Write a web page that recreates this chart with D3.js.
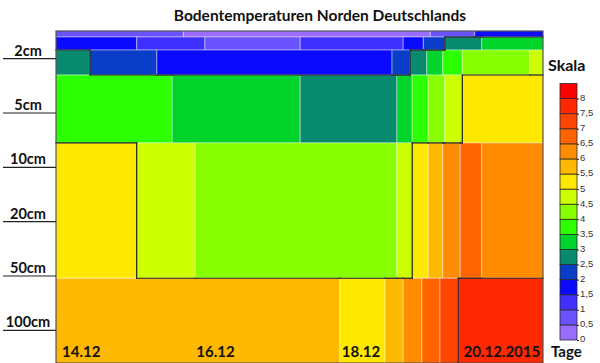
<!DOCTYPE html>
<html><head><meta charset="utf-8">
<script src="https://cdn.jsdelivr.net/npm/d3@7"></script>
<style>body{margin:0;background:#fff}svg{display:block}</style>
</head><body><svg id="c" width="600" height="363"></svg>
<script>
// ---- data ----
const title = "Bodentemperaturen Norden Deutschlands";
const depthLabels = ["2cm", "5cm", "10cm", "20cm", "50cm", "100cm"];
const depthTicks = [0, 1, 2, 3, 4, 5];
const dateTicks = [14.08, 16.01, 18.1, 19.85];
const dateLabels = ["14.12", "16.12", "18.12", "20.12.2015"];
const scaleSteps = [0.5, 1, 1.5, 2, 2.5, 3, 3.5, 4, 4.5, 5, 5.5, 6, 6.5, 7, 7.5, 8];
const scaleTicks = [0, 0.5, 1, 1.5, 2, 2.5, 3, 3.5, 4, 4.5, 5, 5.5, 6, 6.5, 7, 7.5, 8];
const scaleTickLabels = ["0", "0,5", "1", "1,5", "2", "2,5", "3", "3,5", "4", "4,5", "5", "5,5", "6", "6,5", "7", "7,5", "8"];
const isoLevels = [2.5, 5, 7.5];
// soil layers (depth-level units) and time breaks (days of Dec 2015) with temperatures
const layerEdges = [-0.5, -0.39, -0.15, 0.31, 1.56, 4.05, 5.61];
const layerBreaks = [
  [14, 15.83, 19.38, 20.02, 21],
  [14, 15.16, 16.14, 17.51, 18.99, 19.28, 19.59, 20.12, 21],
  [14, 14.49, 15.45, 18.83, 19.09, 19.33, 19.56, 19.84, 20.81, 21],
  [14, 15.67, 17.51, 18.90, 19.12, 19.35, 19.59, 19.84, 21],
  [14, 15.16, 16.0, 18.90, 19.12, 19.35, 19.56, 19.81, 20.12, 21],
  [14, 18.08, 18.73, 18.99, 19.26, 19.52, 19.78, 21]
];
const layerTemps = [
  [0.8, 0.3, 0.8, 1.7],
  [1.7, 1.2, 0.7, 1.2, 1.7, 2.2, 2.7, 3.2],
  [2.7, 2.2, 1.7, 2.2, 2.7, 3.2, 3.7, 4.2, 4.7],
  [3.7, 3.2, 2.7, 3.2, 3.7, 4.2, 4.7, 5.2],
  [5.2, 4.7, 4.2, 4.7, 5.2, 5.7, 6.2, 6.7, 6.2],
  [5.7, 5.2, 5.7, 6.2, 6.7, 7.2, 7.7]
];
const palette = ["#9a6cff", "#6a52ff", "#4030ff", "#0a0aff", "#0a3ec8", "#088a6e", "#00d42a", "#2cff00",
  "#88ff00", "#ccff00", "#ffe800", "#ffb800", "#ff8c00", "#ff6400", "#ff4400", "#ff2800", "#ff0000"];

// ---- chart ----
const svg = d3.select("#c");
const F = "Lato, 'Open Sans', sans-serif";
const x = d3.scaleLinear().domain([14, 21]).range([56, 543]);
const y = d3.scaleLinear().domain([-0.5, 5.61]).range([31, 363]);
const color = d3.scaleThreshold().domain(scaleSteps).range(palette);

const cells = [];
layerTemps.forEach((temps, r) => temps.forEach((v, k) => cells.push({
  x0: layerBreaks[r][k], x1: layerBreaks[r][k + 1], y0: layerEdges[r], y1: layerEdges[r + 1], v })));

svg.append("g").selectAll("rect").data(cells).join("rect")
  .attr("x", d => x(d.x0)).attr("y", d => y(d.y0))
  .attr("width", d => x(d.x1) - x(d.x0)).attr("height", d => y(d.y1) - y(d.y0))
  .attr("fill", d => color(d.v))
  .attr("stroke", "rgba(255,255,255,0.4)").attr("stroke-width", 1);

// iso lines (cell edges where temperature crosses a level)
function valueAt(r, t) {
  const b = layerBreaks[r];
  for (let k = 0; k < b.length - 1; k++) if (t >= b[k] && t < b[k + 1]) return layerTemps[r][k];
  return layerTemps[r][layerTemps[r].length - 1];
}
const iso = [];
isoLevels.forEach(L => {
  layerTemps.forEach((temps, r) => {
    for (let k = 1; k < temps.length; k++)
      if ((temps[k - 1] >= L) !== (temps[k] >= L))
        iso.push({ x0: layerBreaks[r][k], x1: layerBreaks[r][k], y0: layerEdges[r], y1: layerEdges[r + 1] });
  });
  for (let r = 0; r < layerTemps.length - 1; r++) {
    const u = Array.from(new Set(layerBreaks[r].concat(layerBreaks[r + 1]))).sort((a, b) => a - b);
    for (let i = 0; i < u.length - 1; i++) {
      const m = (u[i] + u[i + 1]) / 2;
      if ((valueAt(r, m) >= L) !== (valueAt(r + 1, m) >= L))
        iso.push({ x0: u[i], x1: u[i + 1], y0: layerEdges[r + 1], y1: layerEdges[r + 1] });
    }
  }
});
svg.append("g").selectAll("line").data(iso).join("line")
  .attr("x1", d => x(d.x0)).attr("x2", d => x(d.x1))
  .attr("y1", d => y(d.y0)).attr("y2", d => y(d.y1))
  .attr("stroke", "#1a1a1a").attr("stroke-width", 1.2).attr("stroke-linecap", "square");

// frame
svg.append("rect").attr("x", x(14)).attr("y", y(-0.5)).attr("width", x(21) - x(14))
  .attr("height", y(5.61) - y(-0.5)).attr("fill", "none").attr("stroke", "#333").attr("stroke-width", 1);

// y axis
const ya = svg.append("g").attr("transform", `translate(${x(14)},0)`)
  .call(d3.axisLeft(y).tickValues(depthTicks).tickSize(53).tickFormat(i => depthLabels[i]));
ya.select(".domain").remove();
ya.selectAll(".tick line").attr("stroke", "#222").attr("stroke-width", 1.2);
ya.selectAll(".tick text").attr("x", -28).attr("dy", "-3px").attr("text-anchor", "middle")
  .attr("font-family", F).attr("font-weight", "bold").attr("font-size", "14.5px").attr("fill", "#111");

// x labels
const xa = svg.append("g").attr("transform", "translate(0,345)")
  .call(d3.axisBottom(x).tickValues(dateTicks).tickSize(0).tickFormat((d, i) => dateLabels[i]));
xa.select(".domain").remove();
xa.selectAll(".tick text").attr("y", 12).attr("dy", 0).attr("text-anchor", "start")
  .attr("font-family", F).attr("font-weight", "bold").attr("font-size", "15px").attr("fill", "#111");

// title and labels
svg.append("text").attr("x", 320).attr("y", 21).attr("text-anchor", "middle")
  .attr("font-family", F).attr("font-weight", "bold").attr("font-size", "15.5px").attr("fill", "#111").text(title);
svg.append("text").attr("x", 548).attr("y", 71).attr("font-family", F).attr("font-weight", "bold")
  .attr("font-size", "16px").attr("fill", "#111").text("Skala");
svg.append("text").attr("x", 551).attr("y", 357).attr("font-family", F).attr("font-weight", "bold")
  .attr("font-size", "15px").attr("fill", "#111").text("Tage");

// legend
const ly = d3.scaleLinear().domain([0, 8.5]).range([340, 83.5]);
const lb = palette.map((c, i) => ({ a: i * 0.5, b: i * 0.5 + 0.5, c }));
svg.append("g").selectAll("rect").data(lb).join("rect")
  .attr("x", 560).attr("width", 17).attr("y", d => ly(d.b)).attr("height", d => ly(d.a) - ly(d.b))
  .attr("fill", d => d.c).attr("stroke", "#2a2a2a").attr("stroke-width", 0.8);
const la = svg.append("g").attr("transform", "translate(577,0)")
  .call(d3.axisRight(ly).tickValues(scaleTicks).tickSize(2).tickPadding(1).tickFormat((d, i) => scaleTickLabels[i]));
la.select(".domain").remove();
la.selectAll(".tick line").attr("stroke", "#2a2a2a");
la.selectAll(".tick text").attr("font-family", "'Liberation Sans', Arial, sans-serif").attr("font-size", "9.5px")
  .attr("fill", "#333").attr("dy", "0.2em");
</script></body></html>
